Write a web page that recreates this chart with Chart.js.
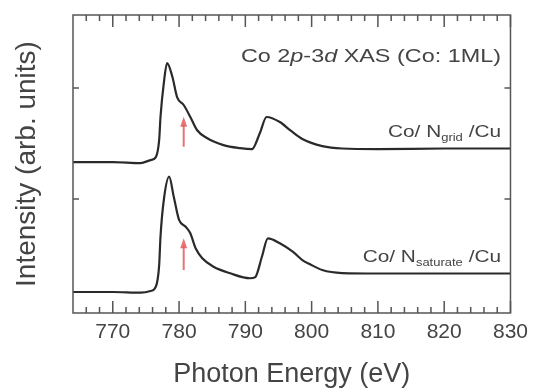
<!DOCTYPE html>
<html lang="en">
<head>
  <meta charset="UTF-8">
  <title>Co 2p-3d XAS</title>
  <script src="https://cdn.jsdelivr.net/npm/chart.js"></script>
  <style>
    body {
      margin: 0;
      background-color: #ffffff;
    }
    #box {
      width: 535px;
      height: 391px;
    }
  </style>
</head>
<body>
  <div id="box">
    <canvas id="xasChart" width="535" height="391"></canvas>
  </div>

  <script>
    // Co/ N_grid /Cu (upper curve)
    const energyGrid = [764, 770, 774.2, 775.7, 776.5, 777.0, 777.2, 777.7, 778.2, 779.0, 779.7, 780.7, 781.7, 782.7, 784.2, 786.7, 789.2, 791.0, 792.2, 793.2, 795.2, 796.9, 798.6, 801.6, 804.6, 810, 820, 830];
    const intensityGrid = [1.333, 1.333, 1.324, 1.351, 1.378, 1.532, 1.739, 2.045, 2.225, 2.099, 1.919, 1.847, 1.739, 1.622, 1.550, 1.486, 1.459, 1.450, 1.595, 1.739, 1.694, 1.613, 1.541, 1.477, 1.455, 1.450, 1.455, 1.455];

    // Co/ N_saturate /Cu (lower curve)
    const energySat = [764, 770, 774.2, 775.7, 776.5, 777.0, 777.2, 777.7, 778.5, 779.2, 780.0, 781.0, 781.7, 782.5, 783.5, 785.2, 787.7, 790.7, 791.5, 792.5, 793.4, 795.2, 797.2, 798.6, 799.7, 801.6, 804.6, 810, 820, 830];
    const intensitySat = [0.162, 0.162, 0.156, 0.171, 0.210, 0.405, 0.660, 0.991, 1.201, 1.021, 0.811, 0.750, 0.691, 0.556, 0.466, 0.390, 0.331, 0.286, 0.297, 0.480, 0.646, 0.601, 0.523, 0.450, 0.414, 0.360, 0.333, 0.329, 0.329, 0.329];

    // red arrows marking the shoulder
    const arrowEnergy = [780.7, 780.7];
    const arrowFrom = [1.471, 0.360];
    const arrowTo = [1.741, 0.646];

    const xTicks = [770, 780, 790, 800, 810, 820, 830];
    const yTicks = [1, 2];

    const fontFamily = '"Liberation Sans", Arial, sans-serif';
    const textColor = '#444';

    function toPoints(xs, ys) {
      return xs.map((x, i) => ({ x: x, y: ys[i] }));
    }

    // draws a run of text pieces right aligned, stretched a bit sideways
    function drawRuns(ctx, runs, right, baseline, stretch) {
      ctx.save();
      ctx.translate(right, baseline);
      ctx.scale(stretch, 1);
      let total = 0;
      runs.forEach(r => {
        ctx.font = r.font;
        total += ctx.measureText(r.text).width;
      });
      let x = -total;
      ctx.fillStyle = textColor;
      ctx.textBaseline = 'alphabetic';
      ctx.textAlign = 'left';
      runs.forEach(r => {
        ctx.font = r.font;
        ctx.fillText(r.text, x, r.dy || 0);
        x += ctx.measureText(r.text).width;
      });
      ctx.restore();
    }

    const framePlugin = {
      id: 'frame',
      afterDatasetsDraw(chart) {
        const { ctx, chartArea: a, scales: { x, y } } = chart;
        ctx.save();
        ctx.strokeStyle = '#555';
        ctx.lineWidth = 1.5;
        ctx.strokeRect(a.left, a.top, a.right - a.left, a.bottom - a.top);

        ctx.beginPath();
        for (let e = 766; e <= 830; e += 2) {
          const px = x.getPixelForValue(e);
          const len = xTicks.includes(e) ? 12 : 6;
          ctx.moveTo(px, a.bottom);
          ctx.lineTo(px, a.bottom - len);
          ctx.moveTo(px, a.top);
          ctx.lineTo(px, a.top + len);
        }
        yTicks.forEach(v => {
          const py = y.getPixelForValue(v);
          ctx.moveTo(a.left, py);
          ctx.lineTo(a.left + 6, py);
          ctx.moveTo(a.right, py);
          ctx.lineTo(a.right - 6, py);
        });
        ctx.stroke();

        // arrows
        ctx.strokeStyle = 'rgba(226, 92, 92, 0.85)';
        ctx.fillStyle = 'rgba(226, 92, 92, 0.85)';
        ctx.lineWidth = 2;
        arrowEnergy.forEach((e, i) => {
          const px = x.getPixelForValue(e);
          const y0 = y.getPixelForValue(arrowFrom[i]);
          const y1 = y.getPixelForValue(arrowTo[i]);
          ctx.beginPath();
          ctx.moveTo(px, y0);
          ctx.lineTo(px, y1 + 8);
          ctx.stroke();
          ctx.beginPath();
          ctx.moveTo(px, y1);
          ctx.lineTo(px - 3.5, y1 + 10);
          ctx.lineTo(px + 3.5, y1 + 10);
          ctx.closePath();
          ctx.fill();
        });
        ctx.restore();

        // text inside the frame
        const big = '18px ' + fontFamily;
        const bigIt = 'italic 18px ' + fontFamily;
        drawRuns(ctx, [
          { text: 'Co 2', font: big },
          { text: 'p', font: bigIt },
          { text: '-3', font: big },
          { text: 'd', font: bigIt },
          { text: ' XAS (Co: 1ML)', font: big }
        ], 501, 62, 1.3);

        const lab = '16px ' + fontFamily;
        const sub = '10px ' + fontFamily;
        drawRuns(ctx, [
          { text: 'Co/ N', font: lab },
          { text: 'grid', font: sub, dy: 4 },
          { text: ' /Cu', font: lab }
        ], 501, 137, 1.3);
        drawRuns(ctx, [
          { text: 'Co/ N', font: lab },
          { text: 'saturate', font: sub, dy: 4 },
          { text: ' /Cu', font: lab }
        ], 501, 262, 1.3);
      }
    };

    const xasChart = new Chart(document.getElementById('xasChart'), {
      type: 'line',
      data: {
        datasets: [{
          label: 'Co/ N_grid /Cu',
          data: toPoints(energyGrid, intensityGrid),
          borderColor: '#2a2a2a',
          borderWidth: 2.2,
          pointRadius: 0,
          cubicInterpolationMode: 'monotone',
          fill: false
        }, {
          label: 'Co/ N_saturate /Cu',
          data: toPoints(energySat, intensitySat),
          borderColor: '#2a2a2a',
          borderWidth: 2.2,
          pointRadius: 0,
          cubicInterpolationMode: 'monotone',
          fill: false
        }]
      },
      options: {
        responsive: false,
        animation: false,
        devicePixelRatio: 1,
        layout: { padding: { top: 15, right: 22, left: 0, bottom: 0 } },
        plugins: {
          legend: { display: false },
          tooltip: { enabled: false }
        },
        scales: {
          x: {
            type: 'linear',
            min: 764,
            max: 830,
            grid: { display: false, drawTicks: false },
            border: { display: false },
            afterBuildTicks: s => { s.ticks = xTicks.map(v => ({ value: v })); },
            afterFit: s => { s.height = 78; },
            ticks: {
              padding: 7,
              color: textColor,
              font: { family: fontFamily, size: 21 },
              maxRotation: 0
            },
            title: {
              display: true,
              text: 'Photon Energy (eV)',
              color: textColor,
              font: { family: fontFamily, size: 27 },
              padding: { top: 0, bottom: 0 }
            }
          },
          y: {
            min: -0.027,
            max: 2.658,
            grid: { display: false, drawTicks: false },
            border: { display: false },
            afterBuildTicks: s => { s.ticks = yTicks.map(v => ({ value: v })); },
            afterFit: s => { s.width = 73; },
            ticks: { display: false },
            title: {
              display: true,
              text: 'Intensity (arb. units)',
              color: textColor,
              font: { family: fontFamily, size: 28 },
              padding: { top: 10, bottom: 0 }
            }
          }
        }
      },
      plugins: [framePlugin]
    });
  </script>
</body>
</html>
